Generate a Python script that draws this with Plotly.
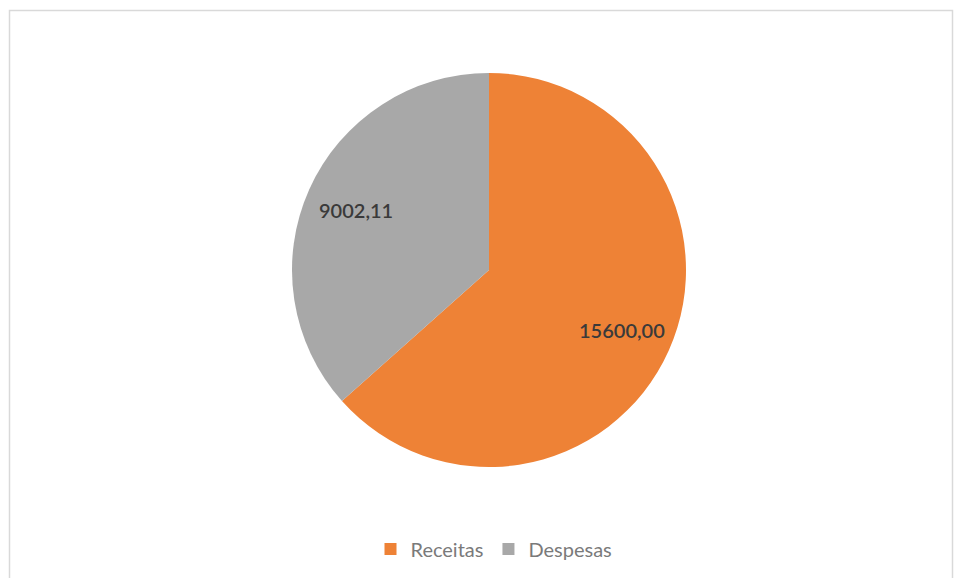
import math
import plotly.graph_objects as go

categories = ["Receitas", "Despesas"]
values = [15600.00, 9002.11]
text_labels = ["15600,00", "9002,11"]
colors = ["#EE8236", "#A8A8A8"]

W, H = 956, 578
cx, cy, R = 489, 270, 197  # pie centre / radius in pixels

fig = go.Figure(go.Pie(
    labels=categories,
    values=values,
    textinfo="none",
    marker=dict(colors=colors, line=dict(width=0)),
    sort=False,
    direction="clockwise",
    rotation=0,
    hole=0,
    domain=dict(x=[(cx - R) / W, (cx + R) / W], y=[1 - (cy + R) / H, 1 - (cy - R) / H]),
))

# Data labels placed on each slice's bisector (Excel "best fit" style)
total = sum(values)
annotations = []
start = 0.0
for v, t in zip(values, text_labels):
    frac = v / total
    mid = (start + frac / 2) * 2 * math.pi
    start += frac
    px = cx + 0.74 * R * math.sin(mid)
    py = cy - 0.74 * R * math.cos(mid)
    annotations.append(dict(
        x=px / W, y=1 - py / H, xref="paper", yref="paper",
        text=t, showarrow=False, xanchor="center", yanchor="middle",
        font=dict(family="Lato", size=20, color="#3A3A3A", weight=600),
    ))

fig.update_layout(
    width=W, height=H,
    margin=dict(l=0, r=0, t=0, b=0),
    paper_bgcolor="white",
    plot_bgcolor="white",
    showlegend=True,
    legend=dict(
        orientation="h",
        x=494 / W, xanchor="center",
        y=1 - 549 / H, yanchor="middle",
        font=dict(family="Lato", size=20, color="#7A7A7A"),
        itemwidth=30,
        traceorder="normal",
    ),
    annotations=annotations,
    shapes=[
        dict(type="rect", xref="paper", yref="paper",
             x0=9.5 / W, x1=952.5 / W, y0=-0.01, y1=1 - 10.5 / H,
             line=dict(color="#D9D9D9", width=1.5), fillcolor="rgba(0,0,0,0)"),
    ],
)

fig.write_html("out.html")
